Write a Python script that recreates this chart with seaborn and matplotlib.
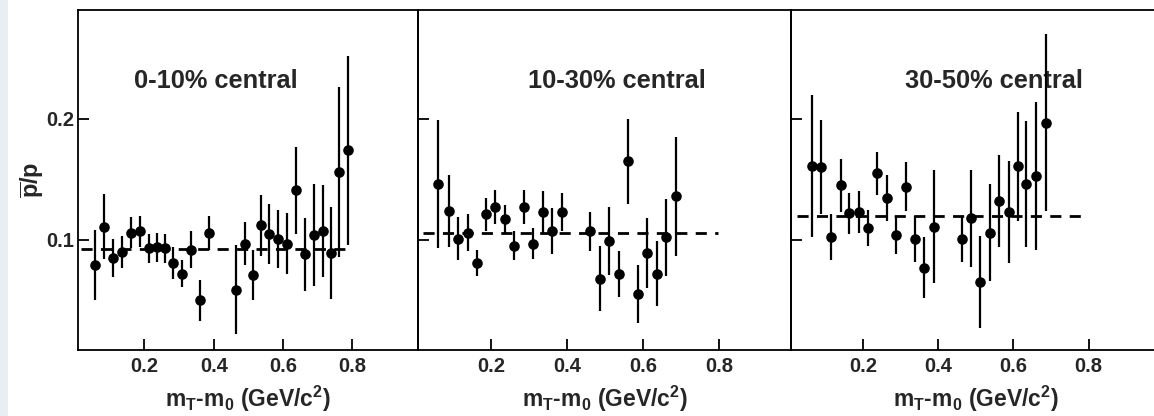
import numpy as np
import pandas as pd
import matplotlib
matplotlib.use("Agg")
import matplotlib.pyplot as plt
import seaborn as sns
from matplotlib.patches import Rectangle

sns.set_theme(style="white")
plt.rcParams['font.family'] = ['Liberation Sans', 'DejaVu Sans']
plt.rcParams['font.weight'] = 'bold'
plt.rcParams['mathtext.fontset'] = 'custom'
plt.rcParams['mathtext.rm'] = 'Liberation Sans:bold'
plt.rcParams['mathtext.it'] = 'Liberation Sans:bold'
plt.rcParams['mathtext.bf'] = 'Liberation Sans:bold'

# ---------------- data ----------------
titles = ["0-10% central", "10-30% central", "30-50% central"]

x_c1 = [0.057, 0.084, 0.110, 0.135, 0.161, 0.186, 0.212, 0.237, 0.259, 0.283,
        0.309, 0.335, 0.361, 0.387, 0.463, 0.489, 0.513, 0.536, 0.561, 0.587,
        0.613, 0.638, 0.664, 0.689, 0.716, 0.740, 0.763, 0.788]
y_c1 = [0.079, 0.111, 0.085, 0.090, 0.106, 0.107, 0.093, 0.094, 0.093, 0.081,
        0.072, 0.092, 0.050, 0.106, 0.059, 0.097, 0.071, 0.112, 0.105, 0.101,
        0.097, 0.141, 0.088, 0.104, 0.107, 0.089, 0.156, 0.174]
e_c1 = [0.029, 0.027, 0.016, 0.013, 0.013, 0.013, 0.012, 0.012, 0.012, 0.013,
        0.011, 0.015, 0.017, 0.014, 0.037, 0.018, 0.021, 0.025, 0.025, 0.024,
        0.025, 0.036, 0.030, 0.042, 0.038, 0.038, 0.070, 0.078]
fit_c1 = 0.0923

x_c2 = [0.061, 0.089, 0.113, 0.139, 0.163, 0.188, 0.211, 0.238, 0.262, 0.288,
        0.312, 0.338, 0.362, 0.388, 0.462, 0.488, 0.511, 0.537, 0.562, 0.587,
        0.610, 0.637, 0.660, 0.687]
y_c2 = [0.146, 0.124, 0.101, 0.106, 0.081, 0.121, 0.127, 0.117, 0.095, 0.127,
        0.097, 0.123, 0.107, 0.123, 0.107, 0.068, 0.099, 0.072, 0.165, 0.055,
        0.089, 0.072, 0.102, 0.136]
e_c2 = [0.053, 0.030, 0.018, 0.015, 0.011, 0.014, 0.014, 0.012, 0.012, 0.014,
        0.013, 0.017, 0.019, 0.016, 0.016, 0.027, 0.028, 0.019, 0.035, 0.024,
        0.029, 0.027, 0.032, 0.049]
fit_c2 = 0.1060

x_c3 = [0.064, 0.088, 0.115, 0.140, 0.162, 0.190, 0.212, 0.237, 0.264, 0.288,
        0.314, 0.337, 0.361, 0.389, 0.463, 0.487, 0.510, 0.537, 0.562, 0.587,
        0.611, 0.634, 0.661, 0.687]
y_c3 = [0.161, 0.160, 0.102, 0.145, 0.122, 0.123, 0.110, 0.155, 0.135, 0.104,
        0.144, 0.101, 0.077, 0.111, 0.101, 0.118, 0.065, 0.106, 0.132, 0.123,
        0.161, 0.146, 0.153, 0.197]
e_c3 = [0.059, 0.039, 0.019, 0.022, 0.017, 0.017, 0.015, 0.018, 0.019, 0.016,
        0.020, 0.019, 0.025, 0.047, 0.019, 0.040, 0.038, 0.040, 0.038, 0.042,
        0.045, 0.052, 0.061, 0.073]
fit_c3 = 0.1198

fit_x1 = [0.017, 0.795]
fit_x2 = [0.021, 0.797]
fit_x3 = [0.023, 0.787]

x_ticks = [0.2, 0.4, 0.6, 0.8]
y_ticks = [0.1, 0.2]
y_ticklabels = ["0.1", "0.2"]

panels = [
    (x_c1, y_c1, e_c1, fit_c1, fit_x1, (0.406, 0.231)),
    (x_c2, y_c2, e_c2, fit_c2, fit_x2, (0.532, 0.231)),
    (x_c3, y_c3, e_c3, fit_c3, fit_x3, (0.547, 0.231)),
]

# ---------------- figure ----------------
W, H = 1154, 416
fig = plt.figure(figsize=(W / 100, H / 100), dpi=100)
fig.patch.set_facecolor('white')
fig.patches.append(Rectangle((0, 0), 8 / W, 1, transform=fig.transFigure,
                             facecolor='#e9eef3', edgecolor='none', zorder=0))

bottom = (H - 350) / H
height = 340 / H
lefts_px = [78, 418, 791]
widths_px = [340, 373, 369]

for i, (xs, ys, es, fit, fx, tpos) in enumerate(panels):
    ax = fig.add_axes([lefts_px[i] / W, bottom, widths_px[i] / W, height])
    df = pd.DataFrame({"x": xs, "y": ys, "e": es})
    ax.vlines(df["x"], df["y"] - df["e"], df["y"] + df["e"], color='black',
              linewidth=1.6, zorder=2)
    sns.scatterplot(data=df, x="x", y="y", ax=ax, color='black', s=58,
                    edgecolor='black', linewidth=0, zorder=3, legend=False)
    ax.hlines(fit, fx[0], fx[1], colors='black', linestyles=(0, (4, 3)),
              linewidth=2.0, zorder=1)
    ax.text(tpos[0], tpos[1], titles[i], ha='center', va='center',
            fontsize=18.3, fontweight='bold', zorder=1)

    ax.set_xlim(0.008, 0.99)
    ax.set_ylim(0.009, 0.29)
    ax.set_xticks(x_ticks)
    ax.set_xticklabels([f"{t:.1f}" for t in x_ticks])
    ax.set_yticks(y_ticks)
    if i == 0:
        ax.set_yticklabels(y_ticklabels)
        ax.set_ylabel(r'$\overline{\mathrm{p}}$/p', fontsize=17,
                      fontweight='bold', labelpad=0)
    else:
        ax.set_yticklabels([])
        ax.set_ylabel("")
    ax.set_xlabel(r'm$_\mathrm{T}$-m$_\mathrm{0}$ (GeV/c$^\mathrm{2}$)',
                  fontsize=16.5, fontweight='bold', labelpad=6)
    ax.tick_params(axis='both', direction='in', length=8, width=1.3,
                   color='black', labelsize=14.5, pad=3,
                   bottom=True, left=True, top=False, right=False)
    ax.tick_params(axis='x', pad=5)
    for lab in ax.get_xticklabels() + ax.get_yticklabels():
        lab.set_fontweight('bold')
    for sp in ax.spines.values():
        sp.set_visible(True)
        sp.set_color('black')
        sp.set_linewidth(1.3)
    ax.set_facecolor('none')
    ax.grid(False)

fig.savefig("out.png", dpi=100, facecolor='white')
